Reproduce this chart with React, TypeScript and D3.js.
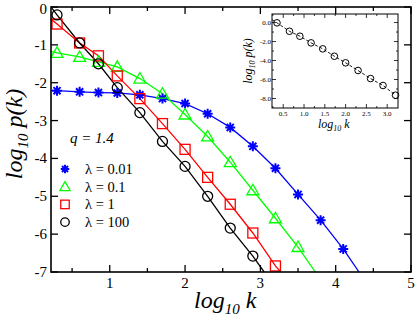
import React from "react";
import * as d3 from "d3";

// marker positions (log10 k), shared by all series
const logK = [0.3, 0.6, 0.85, 1.1, 1.4, 1.7, 2.0, 2.3, 2.6, 2.9, 3.2, 3.5, 3.8, 4.1];

// log10 p(k), q = 1.4
const lambda001 = [-2.21, -2.24, -2.26, -2.27, -2.32, -2.42, -2.55, -2.82, -3.18, -3.68, -4.26, -4.95, -5.63, -6.39];
const lambda01 = [-1.21, -1.32, -1.45, -1.58, -1.89, -2.29, -2.84, -3.42, -4.1, -4.84, -5.58, -6.34];
const lambda1 = [-0.45, -0.95, -1.29, -1.82, -2.42, -3.08, -3.76, -4.5, -5.21, -5.97, -6.84];
const lambda100 = [-0.21, -0.95, -1.5, -2.13, -2.79, -3.55, -4.21, -5.0, -5.84, -6.58];

// where each fitted line enters and leaves the frame [x, y]
const fitStart = [[0.22, -2.2], [0.22, -1.18], [0.22, -0.32], [0.22, 0.0]];
const fitEnd = [[4.31, -7], [3.73, -7], [3.27, -7], [3.05, -7]];

const legendLabels = ["λ = 0.01", "λ = 0.1", "λ = 1", "λ = 100"];
const colors = ["#0000ff", "#00ff00", "#ff0000", "#000000"];
const markers = ["asterisk", "triangle", "square", "circle"];

const xTicks = [1, 2, 3, 4, 5];
const xMinor = [0.5, 1.5, 2.5, 3.5, 4.5];
const yTicks = [0, -1, -2, -3, -4, -5, -6, -7];

// inset
const insetX = [0.35, 0.65, 0.9, 1.17, 1.45, 1.73, 2.0, 2.3, 2.6, 2.9, 3.2];
const insetY = [-0.03, -0.92, -1.44, -2.14, -2.77, -3.55, -4.24, -5.05, -5.9, -6.63, -7.65];
const insetFitStart = [0.23, 0.3];
const insetXTicks = [0.5, 1.0, 1.5, 2.0, 2.5, 3.0];
const insetXMinor = [0.25, 0.75, 1.25, 1.75, 2.25, 2.75];
const insetYTicks = [0, -2, -4, -6, -8];
const insetYMinor = [-1, -3, -5, -7];

const series = [lambda001, lambda01, lambda1, lambda100];
const FONT = "'Liberation Serif', 'DejaVu Serif', serif";

function Marker({ type, x, y, color, s = 1 }: { type: string; x: number; y: number; color: string; s?: number }) {
  if (type === "circle") return <circle cx={x} cy={y} r={5 * s} fill="none" stroke={color} strokeWidth={1.3} />;
  if (type === "square")
    return <rect x={x - 5 * s} y={y - 5 * s} width={10 * s} height={10 * s} fill="none" stroke={color} strokeWidth={1.3} />;
  if (type === "triangle") {
    const p = d3.path();
    p.moveTo(x, y - 6 * s);
    p.lineTo(x + 6 * s, y + 4.5 * s);
    p.lineTo(x - 6 * s, y + 4.5 * s);
    p.closePath();
    return <path d={p.toString()} fill="none" stroke={color} strokeWidth={1.3} />;
  }
  const r = 5 * s;
  const p = d3.path();
  for (let i = 0; i < 4; i++) {
    const a = (i * Math.PI) / 4;
    p.moveTo(x - r * Math.cos(a), y - r * Math.sin(a));
    p.lineTo(x + r * Math.cos(a), y + r * Math.sin(a));
  }
  return <path d={p.toString()} stroke={color} strokeWidth={2} />;
}

export default function App() {
  const W = 415;
  const H = 323;
  const m = { left: 51, right: 411, top: 7, bottom: 272 };

  const x = d3.scaleLinear().domain([0.22, 5]).range([m.left, m.right]);
  const y = d3.scaleLinear().domain([-7, 0]).range([m.bottom, m.top]);

  const line = d3
    .line<[number, number]>()
    .x(d => x(d[0]))
    .y(d => y(d[1]));

  const ins = { left: 272, right: 398, top: 14, bottom: 108 };
  const ix = d3.scaleLinear().domain([0.23, 3.26]).range([ins.left, ins.right]);
  const iy = d3.scaleLinear().domain([-9, 0.9]).range([ins.bottom, ins.top]);
  const insetLine = d3
    .line<[number, number]>()
    .x(d => ix(d[0]))
    .y(d => iy(d[1]));
  const insetPts: [number, number][] = [
    insetFitStart as [number, number],
    ...insetY.map((v, i) => [insetX[i], v] as [number, number]),
  ];

  return (
    <div style={{ position: "absolute", left: 0, top: 0 }}>
      <svg width={W} height={H} style={{ display: "block", background: "#fff" }} fontFamily={FONT}>
        <defs>
          <clipPath id="plotClip">
            <rect x={m.left} y={m.top} width={m.right - m.left} height={m.bottom - m.top} />
          </clipPath>
        </defs>

        {/* fitted lines */}
        <g clipPath="url(#plotClip)">
          {series.map((s, si) => {
            const pts: [number, number][] = [
              fitStart[si] as [number, number],
              ...s.map((v, i) => [logK[i], v] as [number, number]),
              fitEnd[si] as [number, number],
            ];
            return <path key={si} d={line(pts) || ""} fill="none" stroke={colors[si]} strokeWidth={1.3} />;
          })}
        </g>

        {/* markers */}
        {series.map((s, si) =>
          s.map((v, i) => <Marker key={si + "-" + i} type={markers[si]} x={x(logK[i])} y={y(v)} color={colors[si]} />)
        )}

        {/* frame */}
        <rect x={m.left} y={m.top} width={m.right - m.left} height={m.bottom - m.top} fill="none" stroke="#000" strokeWidth={1.6} />

        {/* x ticks bottom and top */}
        {xTicks.map(t => (
          <g key={"xt" + t}>
            <line x1={x(t)} x2={x(t)} y1={m.bottom} y2={m.bottom - 7} stroke="#000" strokeWidth={1.3} />
            <line x1={x(t)} x2={x(t)} y1={m.top} y2={m.top + 7} stroke="#000" strokeWidth={1.3} />
            <text x={x(t)} y={m.bottom + 16} textAnchor="middle" fontSize={15}>
              {t}
            </text>
          </g>
        ))}
        {xMinor.map(t => (
          <g key={"xm" + t}>
            <line x1={x(t)} x2={x(t)} y1={m.bottom} y2={m.bottom - 4} stroke="#000" strokeWidth={1.3} />
            <line x1={x(t)} x2={x(t)} y1={m.top} y2={m.top + 4} stroke="#000" strokeWidth={1.3} />
          </g>
        ))}

        {/* y ticks left and right */}
        {yTicks.map(t => (
          <g key={"yt" + t}>
            <line x1={m.left} x2={m.left + 7} y1={y(t)} y2={y(t)} stroke="#000" strokeWidth={1.3} />
            <line x1={m.right} x2={m.right - 7} y1={y(t)} y2={y(t)} stroke="#000" strokeWidth={1.3} />
            <text x={m.left - 4} y={y(t) + (t === 0 ? 7 : 5)} textAnchor="end" fontSize={15}>
              {t === 0 ? "0" : "-" + Math.abs(t)}
            </text>
          </g>
        ))}

        {/* axis titles */}
        <text x={194} y={308} fontSize={24} fontStyle="italic">
          log<tspan fontSize={15} dy={6}>10</tspan>
          <tspan dy={-6}> k</tspan>
        </text>
        <text transform="translate(22,134) rotate(-90)" textAnchor="middle" fontSize={24} fontStyle="italic">
          log<tspan fontSize={15} dy={6}>10</tspan>
          <tspan dy={-6}> p(k)</tspan>
        </text>

        {/* q label */}
        <text x={70} y={143} fontSize={15} fontStyle="italic">
          q = 1.4
        </text>

        {/* legend */}
        {legendLabels.map((lab, i) => {
          const ly = 169 + i * 17.7;
          return (
            <g key={"lg" + i}>
              <Marker type={markers[i]} x={65} y={ly} color={colors[i]} s={0.85} />
              <text x={85} y={ly + 5} fontSize={14.5}>
                {lab}
              </text>
            </g>
          );
        })}

        {/* inset */}
        <rect x={ins.left} y={ins.top} width={ins.right - ins.left} height={ins.bottom - ins.top} fill="#fff" stroke="#000" strokeWidth={1} />
        <path d={insetLine(insetPts) || ""} fill="none" stroke="#000" strokeWidth={0.9} strokeDasharray="3,2" />
        {insetY.map((v, i) => (
          <circle key={"ic" + i} cx={ix(insetX[i])} cy={iy(v)} r={3.3} fill="none" stroke="#000" strokeWidth={1} />
        ))}
        {insetXTicks.map(t => (
          <g key={"ixt" + t}>
            <line x1={ix(t)} x2={ix(t)} y1={ins.bottom} y2={ins.bottom - 4} stroke="#000" strokeWidth={0.8} />
            <line x1={ix(t)} x2={ix(t)} y1={ins.top} y2={ins.top + 4} stroke="#000" strokeWidth={0.8} />
            <text x={ix(t)} y={ins.bottom + 8} textAnchor="middle" fontSize={7}>
              {t.toFixed(1)}
            </text>
          </g>
        ))}
        {insetXMinor.map(t => (
          <g key={"ixm" + t}>
            <line x1={ix(t)} x2={ix(t)} y1={ins.bottom} y2={ins.bottom - 2} stroke="#000" strokeWidth={0.8} />
            <line x1={ix(t)} x2={ix(t)} y1={ins.top} y2={ins.top + 2} stroke="#000" strokeWidth={0.8} />
          </g>
        ))}
        {insetYTicks.map(t => (
          <g key={"iyt" + t}>
            <line x1={ins.left} x2={ins.left + 4} y1={iy(t)} y2={iy(t)} stroke="#000" strokeWidth={0.8} />
            <line x1={ins.right} x2={ins.right - 4} y1={iy(t)} y2={iy(t)} stroke="#000" strokeWidth={0.8} />
            <text x={ins.left - 1} y={iy(t) + 2.5} textAnchor="end" fontSize={7}>
              {t === 0 ? "0.0" : "-" + Math.abs(t).toFixed(1)}
            </text>
          </g>
        ))}
        {insetYMinor.map(t => (
          <g key={"iym" + t}>
            <line x1={ins.left} x2={ins.left + 2} y1={iy(t)} y2={iy(t)} stroke="#000" strokeWidth={0.8} />
            <line x1={ins.right} x2={ins.right - 2} y1={iy(t)} y2={iy(t)} stroke="#000" strokeWidth={0.8} />
          </g>
        ))}
        <text x={318} y={128} fontSize={12} fontStyle="italic">
          log<tspan fontSize={8} dy={3}>10</tspan>
          <tspan dy={-3}> k</tspan>
        </text>
        <text transform="translate(252,61) rotate(-90)" textAnchor="middle" fontSize={12} fontStyle="italic">
          log<tspan fontSize={8} dy={3}>10</tspan>
          <tspan dy={-3}> p(k)</tspan>
        </text>
      </svg>
    </div>
  );
}
